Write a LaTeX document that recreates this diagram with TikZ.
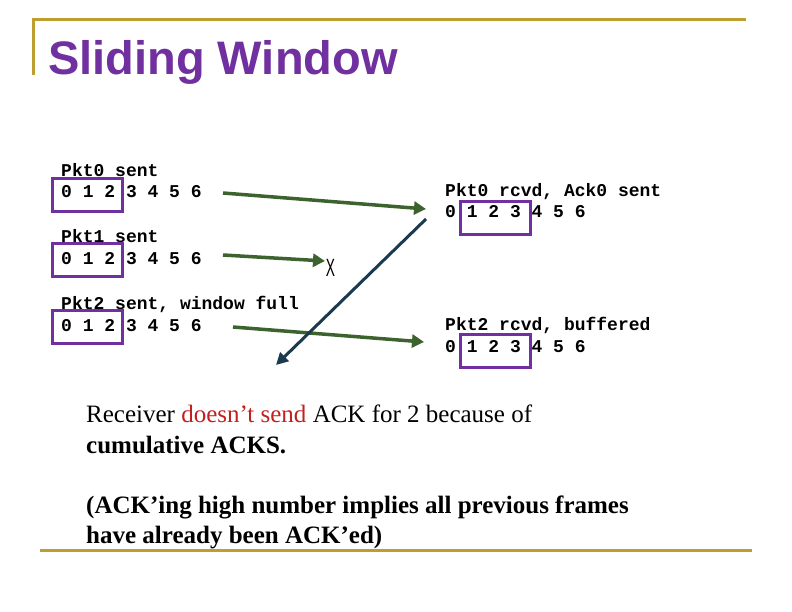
\documentclass[tikz,border=0pt]{standalone}
\usepackage{fontspec}
\setmainfont{Liberation Serif}
\newfontfamily\titlefont{Liberation Sans}
\newfontfamily\codefont{Liberation Mono}
\usetikzlibrary{arrows.meta}
\definecolor{goldline}{RGB}{190,158,48}
\definecolor{winpurple}{RGB}{112,48,160}
\definecolor{arrgreen}{RGB}{60,98,45}
\definecolor{ackblue}{RGB}{28,58,78}
\definecolor{redtext}{RGB}{192,32,32}
\begin{document}
\begin{tikzpicture}[x=1pt,y=-1pt,
  code/.style={anchor=base west,inner sep=0pt,font=\codefont\bfseries\fontsize{18}{21}\selectfont},
  winbox/.style={draw=winpurple,line width=3pt,minimum width=70pt,minimum height=33pt,inner sep=0pt},
  pktarrow/.style={draw=arrgreen,line width=3.5pt,-{Triangle[length=12pt,width=13pt]},fill=arrgreen},
  ackarrow/.style={draw=ackblue,line width=3pt,-{Triangle[length=12pt,width=12pt]},fill=ackblue},
  body/.style={anchor=base west,inner sep=0pt,font=\fontsize{25}{30}\selectfont},
  rule/.style={draw=goldline,line width=3pt}]
\useasboundingbox (0,0) rectangle (792,612);
% frame rules
\draw[rule] (33,75) -- (33,20) -- (746,20);
\draw[rule] (40,550) -- (752,550);
% title
\node[anchor=base west,inner sep=0pt,text=winpurple,font=\titlefont\bfseries\fontsize{47}{50}\selectfont] (title) at (48,75) {Sliding Window};
% sender side
\node[code] (s1l) at (61,177) {Pkt0 sent};
\node[code] (s1d) at (61,198) {0 1 2 3 4 5 6};
\node[code] (s2l) at (61,243) {Pkt1 sent};
\node[code] (s2d) at (61,265) {0 1 2 3 4 5 6};
\node[code] (s3l) at (61,309) {Pkt2 sent, window full};
\node[code] (s3d) at (61,331) {0 1 2 3 4 5 6};
\node[winbox] (sw1) at (87,195) {};
\node[winbox] (sw2) at (87,260.5) {};
\node[winbox] (sw3) at (87,327) {};
% receiver side
\node[code] (r1l) at (445,197) {Pkt0 rcvd, Ack0 sent};
\node[code] (r1d) at (445,218) {0 1 2 3 4 5 6};
\node[code] (r2l) at (445,330) {Pkt2 rcvd, buffered};
\node[code] (r2d) at (445,352) {0 1 2 3 4 5 6};
\node[winbox] (rw1) at (495.5,218.5) {};
\node[winbox] (rw2) at (495.5,350.5) {};
% lost marker
\node[inner sep=0pt,xscale=0.55,font=\titlefont\fontsize{25}{28}\selectfont] (lost) at (330.5,268) {X};
% arrow end points
\coordinate (a1s) at (223,193);
\coordinate (a1e) at (426,209);
\coordinate (a2s) at (223,255);
\coordinate (a2e) at (325,261);
\coordinate (a3s) at (233,327);
\coordinate (a3e) at (424,342);
\coordinate (acks) at (426,219);
\coordinate (acke) at (276,365);
\draw[pktarrow] (a1s) -- (a1e);
\draw[pktarrow] (a2s) -- (a2e);
\draw[pktarrow] (a3s) -- (a3e);
\draw[ackarrow] (acks) -- (acke);
% explanation
\node[body] (t1) at (86,422) {Receiver \textcolor{redtext}{doesn’t send} ACK for 2 because of};
\node[body] (t2) at (86,453) {\bfseries cumulative ACKS.};
\node[body] (t3) at (86,513) {\bfseries (ACK’ing high number implies all previous frames};
\node[body] (t4) at (86,543) {\bfseries have already been ACK’ed)};
\end{tikzpicture}
\end{document}
